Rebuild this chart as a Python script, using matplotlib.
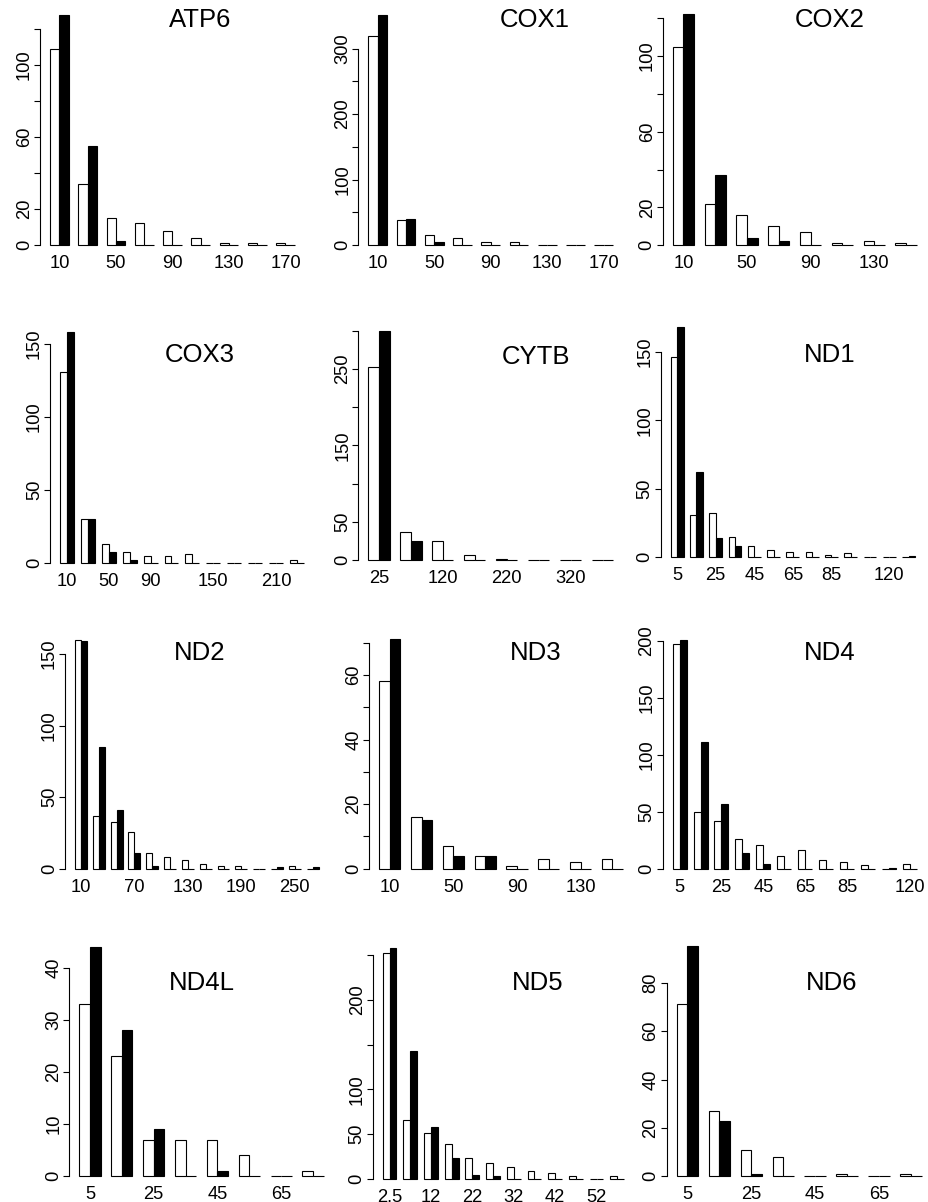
import numpy as np
import matplotlib
matplotlib.use('Agg')
import matplotlib.pyplot as plt

plt.rcParams['font.family'] = ['Liberation Sans', 'DejaVu Sans']

W, H = 929, 1202

# ---------------- data ----------------
atp6_white = [109, 34, 15, 12, 8, 4, 1, 1, 1]
atp6_black = [128, 55, 2, 0, 0, 0, 0, 0, 0]
atp6_labels = ["10", "", "50", "", "90", "", "130", "", "170"]

cox1_white = [319, 38, 16, 10, 5, 5, 0, 0, 0]
cox1_black = [352, 40, 4, 0, 0, 0, 0, 0, 0]
cox1_labels = ["10", "", "50", "", "90", "", "130", "", "170"]

cox2_white = [105, 22, 16, 10, 7, 1, 2, 1]
cox2_black = [122, 37, 4, 2, 0, 0, 0, 0]
cox2_labels = ["10", "", "50", "", "90", "", "130", ""]

cox3_white = [131, 30, 13, 8, 5, 5, 6, 0, 0, 0, 0, 2]
cox3_black = [158, 30, 8, 2, 0, 0, 0, 0, 0, 0, 0, 0]
cox3_labels = ["10", "", "50", "", "90", "", "", "150", "", "", "210", ""]

cytb_white = [252, 37, 25, 7, 2, 0, 0, 0]
cytb_black = [300, 25, 0, 0, 0, 0, 0, 0]
cytb_labels = ["25", "", "120", "", "220", "", "320", ""]

nd1_white = [146, 31, 32, 15, 8, 5, 4, 4, 2, 3, 0, 0, 0]
nd1_black = [168, 62, 14, 8, 0, 0, 0, 0, 0, 0, 0, 0, 1]
nd1_labels = ["5", "", "25", "", "45", "", "65", "", "85", "", "", "120", ""]

nd2_white = [160, 37, 33, 26, 11, 8, 6, 3, 2, 2, 0, 0, 2, 0]
nd2_black = [159, 85, 41, 11, 2, 0, 0, 0, 0, 0, 0, 1, 0, 1]
nd2_labels = ["10", "", "", "70", "", "", "130", "", "", "190", "", "", "250", ""]

nd3_white = [58, 16, 7, 4, 1, 3, 2, 3]
nd3_black = [71, 15, 4, 4, 0, 0, 0, 0]
nd3_labels = ["10", "", "50", "", "90", "", "130", ""]

nd4_white = [197, 50, 42, 26, 21, 11, 16, 8, 6, 3, 0, 4]
nd4_black = [201, 111, 57, 14, 4, 0, 0, 0, 0, 0, 1, 0]
nd4_labels = ["5", "", "25", "", "45", "", "65", "", "85", "", "", "120"]

nd4l_white = [33, 23, 7, 7, 7, 4, 0, 1]
nd4l_black = [44, 28, 9, 0, 1, 0, 0, 0]
nd4l_labels = ["5", "", "25", "", "45", "", "65", ""]

nd5_white = [253, 66, 51, 39, 23, 18, 13, 9, 6, 3, 0, 3]
nd5_black = [258, 143, 58, 23, 4, 3, 0, 0, 0, 0, 0, 0]
nd5_labels = ["2.5", "", "12", "", "22", "", "32", "", "42", "", "52", ""]

nd6_white = [71, 27, 11, 8, 0, 1, 0, 1]
nd6_black = [95, 23, 1, 0, 0, 0, 0, 0]
nd6_labels = ["5", "", "25", "", "45", "", "65", ""]

# y-axis ticks and their labels (R drops overlapping ones)
atp6_yt = [0, 20, 40, 60, 80, 100, 120]; atp6_yl = ["0", "20", "", "60", "", "100", ""]
cox1_yt = [0, 50, 100, 150, 200, 250, 300]; cox1_yl = ["0", "", "100", "", "200", "", "300"]
cox2_yt = [0, 20, 40, 60, 80, 100, 120]; cox2_yl = ["0", "20", "", "60", "", "100", ""]
cox3_yt = [0, 50, 100, 150]; cox3_yl = ["0", "50", "100", "150"]
cytb_yt = [0, 50, 100, 150, 200, 250, 300]; cytb_yl = ["0", "50", "", "150", "", "250", ""]
nd1_yt = [0, 50, 100, 150]; nd1_yl = ["0", "50", "100", "150"]
nd2_yt = [0, 50, 100, 150]; nd2_yl = ["0", "50", "100", "150"]
nd3_yt = [0, 10, 20, 30, 40, 50, 60, 70]; nd3_yl = ["0", "", "20", "", "40", "", "60", ""]
nd4_yt = [0, 50, 100, 150, 200]; nd4_yl = ["0", "50", "100", "150", "200"]
nd4l_yt = [0, 10, 20, 30, 40]; nd4l_yl = ["0", "10", "20", "30", "40"]
nd5_yt = [0, 50, 100, 150, 200, 250]; nd5_yl = ["0", "50", "100", "", "200", ""]
nd6_yt = [0, 20, 40, 60, 80]; nd6_yl = ["0", "20", "40", "60", "80"]

genes = ["ATP6", "COX1", "COX2", "COX3", "CYTB", "ND1",
         "ND2", "ND3", "ND4", "ND4L", "ND5", "ND6"]

# ---------------- layout (pixel boxes: left, top, right, bottom) ----------------
boxes = [
    (40.2, 5.4, 304.7, 254.2), (358.5, 5.4, 623.0, 254.2), (663.0, 5.1, 926.3, 254.5),
    (50.2, 323.1, 313.7, 572.5), (358.5, 321.6, 623.0, 569.2), (660.9, 318.1, 924.8, 566.5),
    (65.3, 630.6, 328.3, 877.9), (369.5, 630.3, 632.8, 877.9), (662.9, 630.4, 926.4, 877.9),
    (69.5, 937.6, 333.5, 1185.5), (373.0, 939.0, 633.8, 1187.9), (666.9, 937.2, 931.4, 1185.5),
]
title_pos = [(200, 20), (535, 20), (830, 20),
             (200, 355), (536, 357), (830, 355),
             (200, 653), (536, 653), (830, 653),
             (202, 983), (538, 983), (832, 983)]

panels = [
    (atp6_white, atp6_black, atp6_labels, atp6_yt, atp6_yl),
    (cox1_white, cox1_black, cox1_labels, cox1_yt, cox1_yl),
    (cox2_white, cox2_black, cox2_labels, cox2_yt, cox2_yl),
    (cox3_white, cox3_black, cox3_labels, cox3_yt, cox3_yl),
    (cytb_white, cytb_black, cytb_labels, cytb_yt, cytb_yl),
    (nd1_white, nd1_black, nd1_labels, nd1_yt, nd1_yl),
    (nd2_white, nd2_black, nd2_labels, nd2_yt, nd2_yl),
    (nd3_white, nd3_black, nd3_labels, nd3_yt, nd3_yl),
    (nd4_white, nd4_black, nd4_labels, nd4_yt, nd4_yl),
    (nd4l_white, nd4l_black, nd4l_labels, nd4l_yt, nd4l_yl),
    (nd5_white, nd5_black, nd5_labels, nd5_yt, nd5_yl),
    (nd6_white, nd6_black, nd6_labels, nd6_yt, nd6_yl),
]

fig = plt.figure(figsize=(W / 100, H / 100), dpi=100)
fig.patch.set_facecolor('white')

TICK_FS = 13.2
TITLE_FS = 18.5

for gene, box, tp, (wv, bv, xl, yt, yl) in zip(genes, boxes, title_pos, panels):
    L, T, R, B = box
    ax = fig.add_axes([L / W, 1 - B / H, (R - L) / W, (B - T) / H])
    n = len(wv)
    idx = np.arange(n)
    ax.bar(3 * idx + 1.5, wv, width=1.0, color='white', edgecolor='black', linewidth=0.8)
    ax.bar(3 * idx + 2.5, bv, width=1.0, color='black', edgecolor='black', linewidth=0.8)
    span = 3 * n - 1
    ax.set_xlim(1 - 0.04 * span, 3 * n + 0.04 * span)
    ymax = max(max(wv), max(bv))
    ax.set_ylim(-0.04 * ymax, 1.04 * ymax)
    for s in ['top', 'right', 'bottom']:
        ax.spines[s].set_visible(False)
    ax.spines['left'].set_bounds(yt[0], yt[-1])
    ax.spines['left'].set_linewidth(0.8)
    ax.set_xticks(3 * idx + 2)
    ax.set_xticklabels(xl, fontsize=TICK_FS)
    ax.tick_params(axis='x', length=0, pad=0.5)
    ax.set_yticks(yt)
    ax.set_yticklabels(yl, fontsize=TICK_FS, rotation=90, va='center')
    ax.tick_params(axis='y', length=4.3, width=0.8, pad=1.0)
    ax.patch.set_visible(False)
    fig.text(tp[0] / W, 1 - tp[1] / H, gene, ha='center', va='center', fontsize=TITLE_FS)

fig.savefig('out.png', dpi=100, facecolor='white')
